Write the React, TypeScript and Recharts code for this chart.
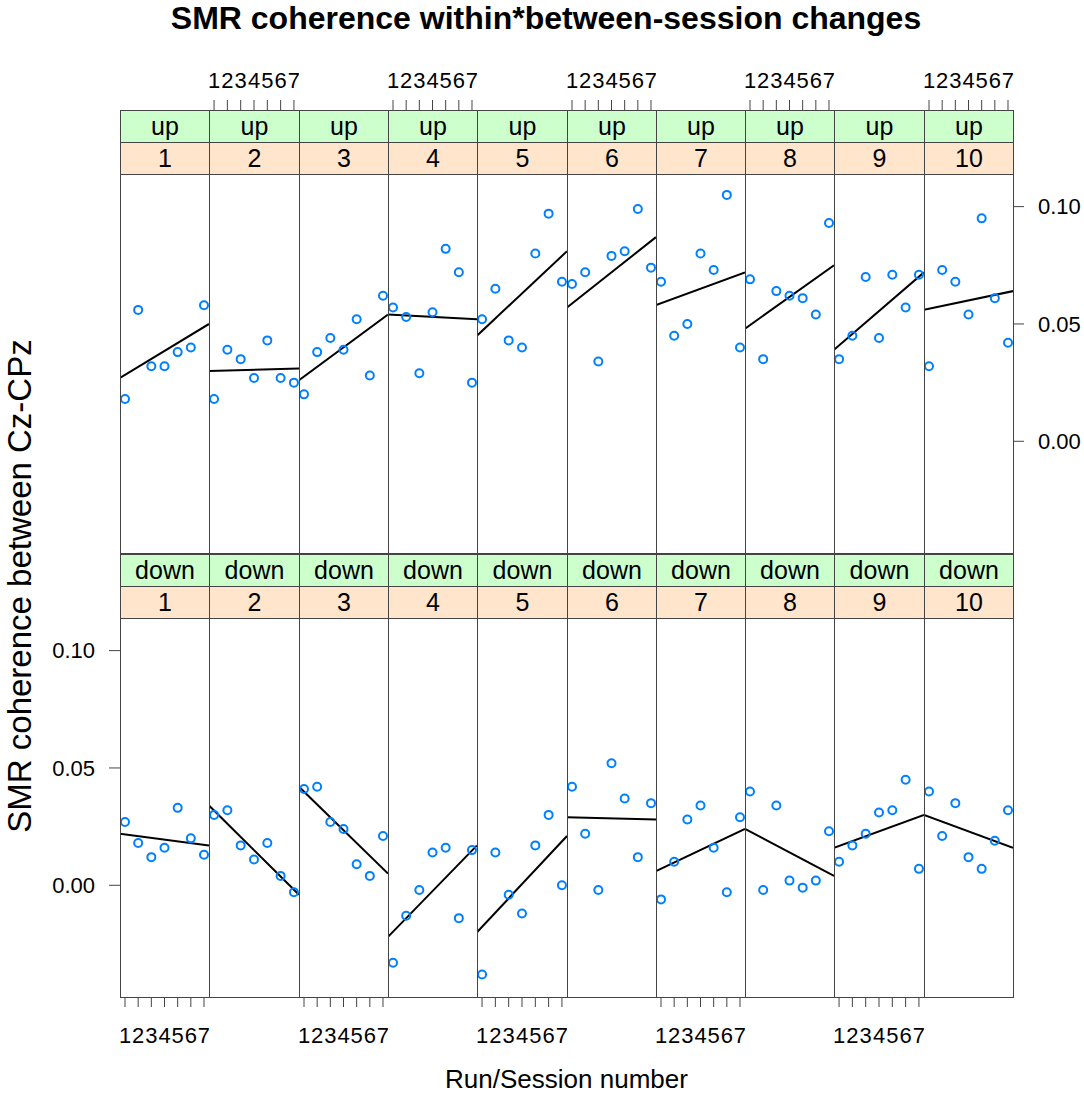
import { ComposedChart, Scatter, Line, XAxis, YAxis } from 'recharts';

const FONT = '"Liberation Sans", Arial, Helvetica, sans-serif';

// runs within a session, sessions, feedback groups
const RUNS = [1, 2, 3, 4, 5, 6, 7];
const SESSIONS = ['1', '2', '3', '4', '5', '6', '7', '8', '9', '10'];
const GROUPS = ['up', 'down'];
const Y_TICKS = [0, 0.05, 0.1];

// coherence per run, one list per session
const upValues = [
    [0.018, 0.056, 0.032, 0.032, 0.038, 0.040, 0.058],
    [0.018, 0.039, 0.035, 0.027, 0.043, 0.027, 0.025],
    [0.020, 0.038, 0.044, 0.039, 0.052, 0.028, 0.062],
    [0.057, 0.053, 0.029, 0.055, 0.082, 0.072, 0.025],
    [0.052, 0.065, 0.043, 0.040, 0.080, 0.097, 0.068],
    [0.067, 0.072, 0.034, 0.079, 0.081, 0.099, 0.074],
    [0.068, 0.045, 0.050, 0.080, 0.073, 0.105, 0.040],
    [0.069, 0.035, 0.064, 0.062, 0.061, 0.054, 0.093],
    [0.035, 0.045, 0.070, 0.044, 0.071, 0.057, 0.071],
    [0.032, 0.073, 0.068, 0.054, 0.095, 0.061, 0.042],
];
const downValues = [
    [0.027, 0.018, 0.012, 0.016, 0.033, 0.020, 0.013],
    [0.030, 0.032, 0.017, 0.011, 0.018, 0.004, -0.003],
    [0.041, 0.042, 0.027, 0.024, 0.009, 0.004, 0.021],
    [-0.033, -0.013, -0.002, 0.014, 0.016, -0.014, 0.015],
    [-0.038, 0.014, -0.004, -0.012, 0.017, 0.030, 0.000],
    [0.042, 0.022, -0.002, 0.052, 0.037, 0.012, 0.035],
    [-0.006, 0.010, 0.028, 0.034, 0.016, -0.003, 0.029],
    [0.040, -0.002, 0.034, 0.002, -0.001, 0.002, 0.023],
    [0.010, 0.017, 0.022, 0.031, 0.032, 0.045, 0.007],
    [0.040, 0.021, 0.035, 0.012, 0.007, 0.019, 0.032],
];

// fitted line, value at left and right edge of each panel
const upFitStart = [0.027, 0.030, 0.026, 0.054, 0.045, 0.057, 0.058, 0.048, 0.039, 0.056];
const upFitEnd = [0.050, 0.031, 0.054, 0.052, 0.081, 0.087, 0.072, 0.075, 0.072, 0.064];
const downFitStart = [0.022, 0.034, 0.042, -0.022, -0.020, 0.029, 0.006, 0.024, 0.016, 0.030];
const downFitEnd = [0.017, -0.004, 0.005, 0.017, 0.021, 0.028, 0.024, 0.004, 0.030, 0.016];

const X_DOMAIN = [0.62, 7.38];
const Y_DOMAIN = [-0.0476, 0.1139];

// layout
const PX0 = 120;
const PW = 89.3;
const PH = 379;
const STRIP_H = 32;
const XH = 50;
const YW = 80;
const ROW_STRIP_TOP = [110, 554];
const BORDER = '#444';

const tickStyle = { fontSize: 22, fill: '#000', fontFamily: FONT };

// panel edges snapped to whole pixels so shared borders stay crisp
const colLeft = (c: number) => Math.round(PX0 + c * PW);
const colWidth = (c: number) => colLeft(c + 1) - colLeft(c);

function Panel({ row, c }: { row: number; c: number }) {
    const values = row === 0 ? upValues[c] : downValues[c];
    const points = RUNS.map((r, i) => ({ x: r, y: values[i] }));
    const fit = [
        { x: X_DOMAIN[0], y: row === 0 ? upFitStart[c] : downFitStart[c] },
        { x: X_DOMAIN[1], y: row === 0 ? upFitEnd[c] : downFitEnd[c] },
    ];

    const stripTop = ROW_STRIP_TOP[row];
    const panelTop = stripTop + 2 * STRIP_H;
    const isTop = row === 0;
    const hasLeft = c === 0;
    const hasRight = c === 9;

    // top row plot area reaches up to the strips, so the top axis sits above them
    const span = Y_DOMAIN[1] - Y_DOMAIN[0];
    const yDomain = isTop ? [Y_DOMAIN[0], Y_DOMAIN[1] + (2 * STRIP_H / PH) * span] : Y_DOMAIN;
    const plotH = isTop ? PH + 2 * STRIP_H : PH;

    const width = colWidth(c) + (hasLeft || hasRight ? YW : 0);
    const height = plotH + XH;
    const left = colLeft(c) - (hasLeft ? YW : 0);
    const top = isTop ? stripTop - XH : panelTop;

    const showX = isTop ? c % 2 === 1 : c % 2 === 0;
    const showY = (hasLeft && !isTop) || (hasRight && isTop);

    return (
        <div style={{ position: 'absolute', left, top }}>
            <ComposedChart width={width} height={height} margin={{ top: 0, right: 0, bottom: 0, left: 0 }}>
                <XAxis
                    xAxisId="x"
                    type="number"
                    dataKey="x"
                    orientation={isTop ? 'top' : 'bottom'}
                    domain={X_DOMAIN}
                    allowDataOverflow
                    ticks={RUNS}
                    interval={0}
                    height={XH}
                    axisLine={false}
                    tickSize={10}
                    tickMargin={isTop ? 12 : 20}
                    tickLine={{ stroke: BORDER }}
                    tick={showX ? tickStyle : false}
                />
                <YAxis
                    yAxisId="y"
                    type="number"
                    dataKey="y"
                    orientation={hasRight ? 'right' : 'left'}
                    hide={!hasLeft && !hasRight}
                    domain={yDomain}
                    allowDataOverflow
                    ticks={Y_TICKS}
                    interval={0}
                    width={YW}
                    axisLine={false}
                    tickSize={11}
                    tickMargin={14}
                    tickLine={{ stroke: BORDER }}
                    tick={showY ? tickStyle : false}
                    tickFormatter={(v: number) => v.toFixed(2)}
                />
                <Line
                    xAxisId="x"
                    yAxisId="y"
                    data={fit}
                    dataKey="y"
                    type="linear"
                    stroke="#000"
                    strokeWidth={2}
                    dot={false}
                    isAnimationActive={false}
                />
                <Scatter
                    xAxisId="x"
                    yAxisId="y"
                    data={points}
                    dataKey="y"
                    isAnimationActive={false}
                    shape={(p: any) => (
                        <circle cx={p.cx} cy={p.cy} r={4} fill="none" stroke="#0080ff" strokeWidth={2} />
                    )}
                />
            </ComposedChart>
        </div>
    );
}

function Strips({ row, c }: { row: number; c: number }) {
    const stripTop = ROW_STRIP_TOP[row];
    const x = colLeft(c);
    const w = colWidth(c) + 1;
    const strip = (y: number, bg: string, label: string) => (
        <div
            style={{
                position: 'absolute', left: x, top: y, width: w, height: STRIP_H + 1,
                boxSizing: 'border-box', border: `1px solid ${BORDER}`, background: bg,
                textAlign: 'center', lineHeight: `${STRIP_H - 1}px`, fontSize: 25, color: '#000',
            }}
        >
            {label}
        </div>
    );
    return (
        <>
            {strip(stripTop, '#ccffcc', GROUPS[row])}
            {strip(stripTop + STRIP_H, '#ffe5cc', SESSIONS[c])}
            <div
                style={{
                    position: 'absolute', left: x, top: stripTop, width: w,
                    height: 2 * STRIP_H + PH + 1, boxSizing: 'border-box',
                    border: `1px solid ${BORDER}`, pointerEvents: 'none',
                }}
            />
        </>
    );
}

export default function App() {
    const cells: { row: number; c: number }[] = [];
    GROUPS.forEach((_, row) => SESSIONS.forEach((_, c) => cells.push({ row, c })));

    return (
        <div style={{ position: 'absolute', left: 0, top: 0, width: 1084, height: 1095, background: '#fff', fontFamily: FONT, overflow: 'hidden' }}>
            <div style={{ position: 'absolute', left: 4, top: 2, width: 1084, textAlign: 'center', fontSize: 32, fontWeight: 'bold', lineHeight: 1 }}>
                SMR coherence within*between-session changes
            </div>
            {cells.map(({ row, c }) => <Panel key={`p${row}-${c}`} row={row} c={c} />)}
            {cells.map(({ row, c }) => <Strips key={`s${row}-${c}`} row={row} c={c} />)}
            <div style={{ position: 'absolute', left: 20 - 350, top: 586 - 20, width: 700, height: 40, lineHeight: '40px', textAlign: 'center', fontSize: 33, transform: 'rotate(-90deg)' }}>
                SMR coherence between Cz-CPz
            </div>
            <div style={{ position: 'absolute', left: PX0, top: 1066, width: 10 * PW, textAlign: 'center', fontSize: 26, lineHeight: 1 }}>
                Run/Session number
            </div>
        </div>
    );
}
